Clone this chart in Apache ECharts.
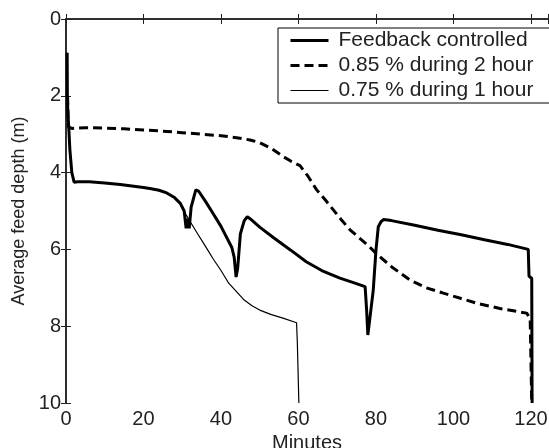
<!DOCTYPE html>
<html>
<head>
<meta charset="utf-8">
<script src="https://cdn.jsdelivr.net/npm/echarts@6/dist/echarts.min.js"></script>
<style>
  html, body { margin: 0; padding: 0; background: #fff; }
  #chart { width: 549px; height: 448px; }
</style>
</head>
<body>
<div id="chart"></div>
<script>
// feedback controlled (thick solid)
const fbMin = [0.3, 0.35, 0.5, 0.7, 1.0, 1.5, 2.1, 3, 6, 10, 14, 18, 20, 22, 24, 26, 28, 29.5, 30.5, 31, 31.4, 31.8, 32.3, 33.5, 34.2, 36, 38, 40, 42.8,
  43.4, 43.9, 44.3, 45, 46, 46.8, 47.5, 50, 53.5, 58, 62, 66, 70.7, 74, 77.2, 77.6, 77.9, 78.3, 79.3, 80, 80.6, 81.3, 82, 84,
  90, 96, 102, 108, 114, 119.3, 119.5, 120.2, 120.3];
const fbDepth = [0.88, 2.0, 2.5, 2.8, 3.4, 4.0, 4.25, 4.24, 4.24, 4.27, 4.31, 4.36, 4.39, 4.42, 4.46, 4.53, 4.65, 4.8, 5.0, 5.45, 5.2, 5.45, 4.9, 4.45, 4.48, 4.75, 5.07, 5.4, 5.95,
  6.2, 6.72, 6.5, 5.6, 5.25, 5.15, 5.2, 5.42, 5.69, 6.02, 6.32, 6.55, 6.75, 6.86, 6.97, 7.6, 8.23, 7.9, 7.06, 6.02, 5.41, 5.28, 5.22, 5.25,
  5.37, 5.5, 5.62, 5.75, 5.87, 6.0, 6.7, 6.75, 10];

// 0.85 % during 2 hour (dashed)
const dashMin = [0.4, 0.6, 1.0, 1.5, 5, 10, 15, 20, 25, 30, 35, 40, 44, 47.5, 50, 53, 56, 58, 60.4, 62.5, 64.7, 67, 69, 71, 73.3, 75.9, 78, 80.2,
  84, 88.8, 93, 97.4, 102, 106, 112, 118.9, 119.8, 120.2];
const dashDepth = [2.0, 2.8, 2.75, 2.85, 2.83, 2.84, 2.86, 2.89, 2.92, 2.96, 3.0, 3.04, 3.09, 3.15, 3.22, 3.37, 3.58, 3.7, 3.82, 4.1, 4.45, 4.72, 4.97, 5.22, 5.49, 5.72, 5.9, 6.12,
  6.45, 6.8, 7.0, 7.14, 7.28, 7.4, 7.54, 7.66, 7.8, 10];

// 0.75 % during 1 hour (thin)
const thinMin = [0.3, 0.35, 0.5, 0.7, 1.0, 1.5, 2.1, 3, 6, 10, 14, 18, 20, 22, 24, 26, 28, 29.5, 30.5, 31, 32.5, 34, 36, 38, 40, 42, 44, 46, 48, 50, 53, 56, 59.5, 59.7, 60.1, 60.1];
const thinDepth = [0.88, 2.0, 2.5, 2.8, 3.4, 4.0, 4.25, 4.24, 4.24, 4.27, 4.31, 4.36, 4.39, 4.42, 4.46, 4.53, 4.65, 4.8, 5.0, 5.1, 5.35, 5.6, 5.92, 6.25, 6.55, 6.88, 7.1, 7.32, 7.47, 7.58, 7.7, 7.79, 7.91, 8.4, 8.45, 10];

const seriesNames = ['Feedback controlled', '0.85 % during 2 hour', '0.75 % during 1 hour'];
const xTicks = [0, 20, 40, 60, 80, 100, 120];

function pairs(xs, ys) {
  return xs.map((x, i) => [x, ys[i]]);
}

const font = 'Liberation Sans, Arial, sans-serif';
const textColor = '#222';

const option = {
  animation: false,
  backgroundColor: '#fff',
  grid: { left: 66, right: 1, top: 19, bottom: 45, outerBoundsMode: 'none', containLabel: false },
  legend: {
    orient: 'vertical',
    left: 278,
    top: 28,
    data: [
      { name: seriesNames[0], lineStyle: { width: 3 } },
      { name: seriesNames[1], lineStyle: { width: 3 } },
      { name: seriesNames[2], lineStyle: { width: 1.2 } }
    ],
    itemWidth: 38,
    itemHeight: 10,
    itemGap: 4,
    padding: [2, 18, 2, 11],
    borderColor: '#000',
    borderWidth: 1,
    backgroundColor: '#fff',
    itemStyle: { opacity: 0 },
    textStyle: { fontFamily: font, fontSize: 21, color: textColor, padding: [0, 0, 0, 5] }
  },
  xAxis: [
    {
      type: 'value',
      min: 0,
      max: 124.4,
      interval: 20,
      name: 'Minutes',
      nameLocation: 'middle',
      nameGap: 29,
      nameTextStyle: { fontFamily: font, fontSize: 20, color: textColor },
      axisLine: { lineStyle: { color: '#222', width: 1.5 } },
      axisTick: { inside: true, length: 5, lineStyle: { color: '#222' } },
      axisLabel: {
        fontFamily: font, fontSize: 20, color: textColor, margin: 6,
        formatter: v => xTicks.includes(v) ? String(v) : ''
      },
      splitLine: { show: false }
    },
    {
      type: 'value',
      position: 'top',
      min: 0,
      max: 124.4,
      interval: 20,
      axisLine: { show: true, lineStyle: { color: '#222', width: 1.5 } },
      axisTick: { inside: true, length: 5, lineStyle: { color: '#222' } },
      axisLabel: { show: false },
      splitLine: { show: false }
    }
  ],
  yAxis: [
    {
      type: 'value',
      inverse: true,
      min: 0,
      max: 10,
      interval: 2,
      name: 'Average feed depth (m)',
      nameLocation: 'middle',
      nameGap: 36,
      nameTextStyle: { fontFamily: font, fontSize: 18, color: textColor },
      axisLine: { show: true, lineStyle: { color: '#222', width: 1.5 } },
      axisTick: { show: true, inside: true, length: 5, lineStyle: { color: '#222' } },
      axisLabel: { fontFamily: font, fontSize: 20, color: textColor, margin: 5 },
      splitLine: { show: false }
    },
    {
      type: 'value',
      position: 'right',
      inverse: true,
      min: 0,
      max: 10,
      interval: 2,
      axisLine: { show: true, lineStyle: { color: '#222', width: 1.5 } },
      axisTick: { show: true, inside: true, length: 5, lineStyle: { color: '#222' } },
      axisLabel: { show: false },
      splitLine: { show: false }
    }
  ],
  series: [
    {
      name: seriesNames[0],
      type: 'line',
      z: 3,
      showSymbol: false,
      symbol: 'none',
      symbolSize: 0,
      data: pairs(fbMin, fbDepth),
      lineStyle: { color: '#000', width: 3 },
      itemStyle: { color: '#000' }
    },
    {
      name: seriesNames[1],
      type: 'line',
      z: 2,
      showSymbol: false,
      symbol: 'none',
      symbolSize: 0,
      data: pairs(dashMin, dashDepth),
      lineStyle: { color: '#000', width: 3, type: [9, 5] },
      itemStyle: { color: '#000' }
    },
    {
      name: seriesNames[2],
      type: 'line',
      z: 1,
      showSymbol: false,
      symbol: 'none',
      symbolSize: 0,
      data: pairs(thinMin, thinDepth),
      lineStyle: { color: '#000', width: 1.2 },
      itemStyle: { color: '#000' }
    }
  ]
};

const chart = echarts.init(document.getElementById('chart'));
chart.setOption(option);
</script>
</body>
</html>
